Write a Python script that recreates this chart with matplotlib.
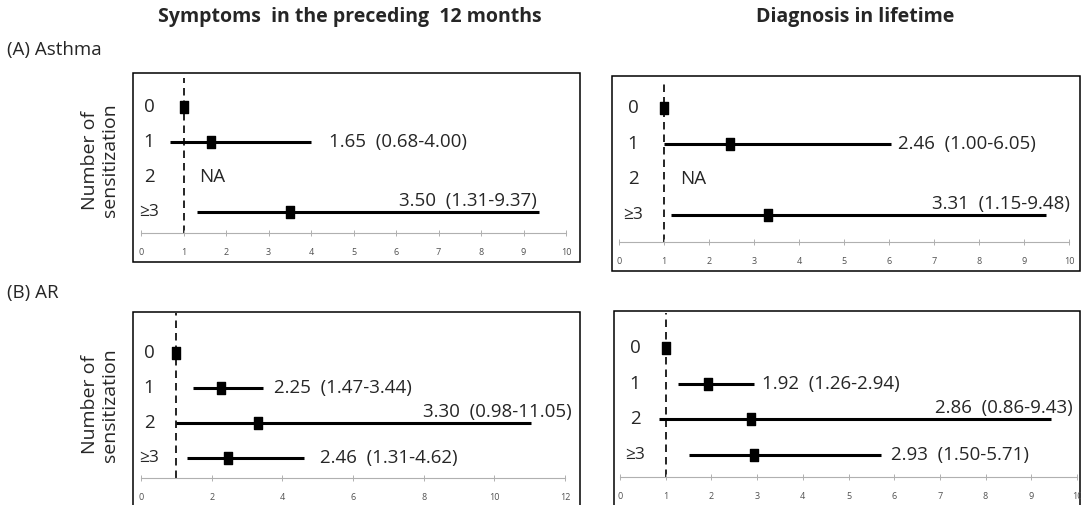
import numpy as np
import matplotlib
matplotlib.use("Agg")
import matplotlib.pyplot as plt
from matplotlib.patches import Rectangle
from matplotlib.path import Path

plt.rcParams['font.family'] = ['Open Sans', 'Noto Sans', 'DejaVu Sans']

# ---------------- data ----------------
categories = ['0', '1', '2', '≥3']
nan = np.nan

asthma_sym_or = [1.00, 1.65, nan, 3.50]
asthma_sym_lo = [nan, 0.68, nan, 1.31]
asthma_sym_hi = [nan, 4.00, nan, 9.37]

asthma_dx_or = [1.00, 2.46, nan, 3.31]
asthma_dx_lo = [nan, 1.00, nan, 1.15]
asthma_dx_hi = [nan, 6.05, nan, 9.48]

ar_sym_or = [1.00, 2.25, 3.30, 2.46]
ar_sym_lo = [nan, 1.47, 0.98, 1.31]
ar_sym_hi = [nan, 3.44, 11.05, 4.62]

ar_dx_or = [1.00, 1.92, 2.86, 2.93]
ar_dx_lo = [nan, 1.26, 0.86, 1.50]
ar_dx_hi = [nan, 2.94, 9.43, 5.71]

col_titles = ['Symptoms  in the preceding  12 months', 'Diagnosis in lifetime']
row_titles = ['(A) Asthma', '(B) AR']
ylabel = 'Number of\nsensitization'

W, H = 1081, 505
fig = plt.figure(figsize=(W / 100, H / 100), dpi=100)

def fx(x):
    return x / W

def fy(y):
    return 1 - y / H

# panel layout in pixels (style only)
panels = [
    dict(data=(asthma_sym_or, asthma_sym_lo, asthma_sym_hi), box=(133, 73, 580, 262),
         x0=141, x1=566, ytop=78, ybot=233, row0=107, dy=35.0, xmax=10, xstep=1,
         place=[None, ('r', 18), None, ('a', -2)], catdx=8),
    dict(data=(asthma_dx_or, asthma_dx_lo, asthma_dx_hi), box=(612, 76, 1080, 271),
         x0=619, x1=1069, ytop=81, ybot=242, row0=108, dy=35.7, xmax=10, xstep=1,
         place=[None, ('r', 7), None, ('a', 24)], catdx=14),
    dict(data=(ar_sym_or, ar_sym_lo, ar_sym_hi), box=(133, 312, 580, 530),
         x0=141, x1=565, ytop=313, ybot=478, row0=353, dy=35.0, xmax=12, xstep=2,
         place=[None, ('r', 11), ('a', 40), ('r', 16)], catdx=8),
    dict(data=(ar_dx_or, ar_dx_lo, ar_dx_hi), box=(614, 311, 1080, 530),
         x0=620, x1=1077, ytop=313, ybot=477, row0=348, dy=35.7, xmax=10, xstep=1,
         place=[None, ('r', 8), ('a', 22), ('r', 10)], catdx=15),
]

rect_marker = Path([(-0.35, -0.5), (0.35, -0.5), (0.35, 0.5), (-0.35, 0.5), (-0.35, -0.5)],
                   [Path.MOVETO, Path.LINETO, Path.LINETO, Path.LINETO, Path.CLOSEPOLY])

PT = 0.72  # points per pixel at 100 dpi
TXT = '#262626'

for p in panels:
    bx0, by0, bx1, by1 = p['box']
    fig.add_artist(Rectangle((fx(bx0), fy(by1)), fx(bx1 - bx0), (by1 - by0) / H,
                             transform=fig.transFigure, fill=False,
                             edgecolor='black', linewidth=1.1, zorder=0))
    ax = fig.add_axes([fx(p['x0']), fy(p['ybot']), fx(p['x1'] - p['x0']),
                       (p['ybot'] - p['ytop']) / H])
    ax.patch.set_alpha(0)
    ytop_v = -(p['row0'] - p['ytop']) / p['dy']
    ybot_v = (p['ybot'] - p['row0']) / p['dy']
    ax.set_xlim(0, p['xmax'])
    ax.set_ylim(ybot_v, ytop_v)
    for s in ['top', 'left', 'right']:
        ax.spines[s].set_visible(False)
    ax.spines['bottom'].set_color('#b0b0b0')
    ax.spines['bottom'].set_linewidth(0.8)
    ax.set_yticks([])
    ax.set_xticks(np.arange(0, p['xmax'] + 0.01, p['xstep']))
    ax.tick_params(axis='x', direction='inout', length=5, width=0.7, color='#b0b0b0',
                   labelsize=6.5, labelcolor='#505050', pad=8)

    ax.axvline(1, color='black', lw=1.2, ls=(0, (4.5, 3)), zorder=1)

    ors, los, his = p['data']
    rows = np.arange(len(categories))
    for i, cat in enumerate(categories):
        ax.annotate(cat, xy=(0, i), xycoords=('axes fraction', 'data'),
                    xytext=(p['catdx'] * PT, 0), textcoords='offset points',
                    ha='center', va='center', fontsize=13.5 if cat != '≥3' else 12.5,
                    color=TXT)
    valid_ci = ~np.isnan(np.array(los, dtype=float))
    ax.hlines(rows[valid_ci], np.array(los)[valid_ci], np.array(his)[valid_ci],
              color='black', lw=2.2, zorder=2)
    valid_or = ~np.isnan(np.array(ors, dtype=float))
    ax.plot(np.array(ors)[valid_or], rows[valid_or], linestyle='none', marker=rect_marker,
            ms=8, color='black', zorder=3)

    for i in range(len(categories)):
        if i == 0:
            continue
        if np.isnan(ors[i]):
            ax.annotate('NA', xy=(1, i), xytext=(16 * PT, 0), textcoords='offset points',
                        ha='left', va='center', fontsize=13.5, color=TXT)
            continue
        label = f"{ors[i]:.2f}  ({los[i]:.2f}-{his[i]:.2f})"
        kind, dx = p['place'][i]
        if kind == 'r':
            ax.annotate(label, xy=(his[i], i), xytext=(dx * PT, 0), textcoords='offset points',
                        ha='left', va='center', fontsize=13.5, color=TXT,
                        annotation_clip=False)
        else:
            ax.annotate(label, xy=(his[i], i), xytext=(dx * PT, 11 * PT),
                        textcoords='offset points', ha='right', va='center',
                        fontsize=13.5, color=TXT, annotation_clip=False)

# titles and labels
fig.text(fx(350), fy(17), col_titles[0], ha='center', va='center', fontsize=14,
         fontweight='bold', color=TXT)
fig.text(fx(855), fy(17), col_titles[1], ha='center', va='center', fontsize=14,
         fontweight='bold', color=TXT)
fig.text(fx(7), fy(50), row_titles[0], ha='left', va='center', fontsize=13.5, color=TXT)
fig.text(fx(7), fy(293), row_titles[1], ha='left', va='center', fontsize=13.5, color=TXT)
fig.text(fx(100), fy(160), ylabel, ha='center', va='center', rotation=90, fontsize=14,
         linespacing=1.15, color=TXT)
fig.text(fx(100), fy(405), ylabel, ha='center', va='center', rotation=90, fontsize=14,
         linespacing=1.15, color=TXT)

fig.savefig('out.png', dpi=100)
